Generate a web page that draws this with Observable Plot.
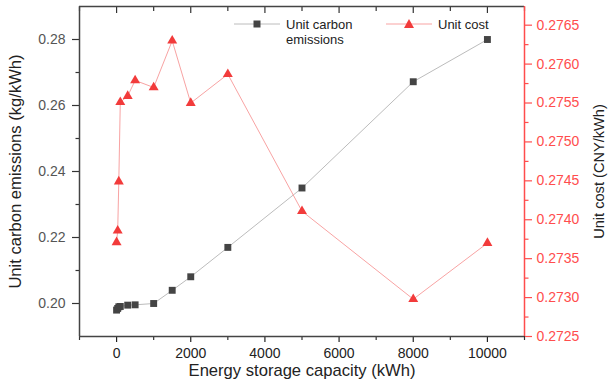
<!DOCTYPE html>
<html><head><meta charset="utf-8">
<script src="https://cdn.jsdelivr.net/npm/d3@7"></script>
<script src="https://cdn.jsdelivr.net/npm/@observablehq/plot@0.6"></script>
<style>
body{margin:0;background:#fff;font-family:"Liberation Sans",Arial,sans-serif;}
#wrap{position:relative;width:608px;height:387px;}
#wrap svg{display:block;}
.leg{position:absolute;font-size:13px;line-height:15px;color:#222;white-space:nowrap;}
</style></head><body>
<div id="wrap"></div>
<script>
// ---- data ----
const capacity = [0, 30, 60, 100, 300, 500, 1000, 1500, 2000, 3000, 5000, 8000, 10000];
const carbon   = [0.1980, 0.1985, 0.1990, 0.1991, 0.1995, 0.1996, 0.2000, 0.2040, 0.2081, 0.2170, 0.2350, 0.2672, 0.2800];
const cost     = [0.27371, 0.27386, 0.27449, 0.27551, 0.27559, 0.27579, 0.27570, 0.27630, 0.27550, 0.27587, 0.27411, 0.27298, 0.27370];
const xMajor = [0, 2000, 4000, 6000, 8000, 10000];
const xMinor = [-1000, 1000, 3000, 5000, 7000, 9000, 11000];
const leftMajor = [0.20, 0.22, 0.24, 0.26, 0.28];
const leftMinor = [0.21, 0.23, 0.25, 0.27];
const rightMajor = [0.2725, 0.2730, 0.2735, 0.2740, 0.2745, 0.2750, 0.2755, 0.2760, 0.2765];
const rightMinor = [0.27275, 0.27325, 0.27375, 0.27425, 0.27475, 0.27525, 0.27575, 0.27625];
const xDomain = [-1000, 11000];
const leftDomain = [0.19, 0.29];
const rightDomain = [0.2725, 0.27674];
const seriesNames = ["Unit carbon emissions", "Unit cost"];

const grayLine = "#bcbcbc", grayDot = "#444444";
const redLine = "#f8a3a3", redDot = "#f23b3b", redAxis = "#ff4d4d";

const toLeft = v => leftDomain[0] + (v - rightDomain[0]) / (rightDomain[1] - rightDomain[0]) * (leftDomain[1] - leftDomain[0]);
const fromLeft = v => rightDomain[0] + (v - leftDomain[0]) / (leftDomain[1] - leftDomain[0]) * (rightDomain[1] - rightDomain[0]);

const data = capacity.map((x, i) => ({x, e: carbon[i], c: toLeft(cost[i])}));

const chart = Plot.plot({
  width: 608, height: 387,
  marginLeft: 79, marginRight: 84, marginTop: 6, marginBottom: 51,
  style: {fontSize: "14px", fontFamily: "Liberation Sans, Arial, sans-serif", background: "#fff"},
  x: {domain: xDomain},
  y: {domain: leftDomain},
  marks: [
    // bottom axis
    Plot.axisX({anchor: "bottom", ticks: xMajor, tickSize: 6, tickPadding: 6, strokeWidth: 1.2,
      tickFormat: d3.format("d"), color: "#222", label: null}),
    Plot.axisX({anchor: "bottom", ticks: [], label: "Energy storage capacity (kWh)", labelAnchor: "center",
      labelArrow: "none", labelOffset: 39, fontSize: 16.6, color: "#222"}),
    Plot.axisX({anchor: "bottom", ticks: xMinor, tickSize: 4, strokeWidth: 1.2, tickFormat: () => "", label: null, color: "#333"}),
    // top mirror ticks (inward)
    Plot.axisX({anchor: "top", ticks: xMajor, tickSize: 6, dy: 6, strokeWidth: 1.2, tickFormat: () => "", label: null, color: "#333"}),
    Plot.axisX({anchor: "top", ticks: xMinor, tickSize: 4, dy: 4, strokeWidth: 1.2, tickFormat: () => "", label: null, color: "#333"}),
    // left axis
    Plot.axisY({anchor: "left", ticks: leftMajor, tickSize: 7, tickPadding: 7, strokeWidth: 1.2,
      tickFormat: d3.format(".2f"), stroke: "#333", fill: "#555", label: null}),
    Plot.axisY({anchor: "left", ticks: [], label: "Unit carbon emissions (kg/kWh)", labelAnchor: "center",
      labelArrow: "none", labelOffset: 70, fontSize: 16.6, color: "#222"}),
    Plot.axisY({anchor: "left", ticks: leftMinor, tickSize: 3.5, strokeWidth: 1.2, tickFormat: () => "", label: null, color: "#333"}),
    // right axis
    Plot.axisY({anchor: "right", ticks: rightMajor.map(toLeft), tickSize: 7, tickPadding: 5, strokeWidth: 1.2,
      tickFormat: d => fromLeft(d).toFixed(4), color: redAxis, label: null}),
    Plot.axisY({anchor: "right", ticks: [], label: "Unit cost (CNY/kWh)", labelAnchor: "center",
      labelArrow: "none", labelOffset: 79, fontSize: 14.6, color: "#222"}),
    Plot.axisY({anchor: "right", ticks: rightMinor.map(toLeft), tickSize: 3.5, strokeWidth: 1.2, tickFormat: () => "", label: null, color: redAxis}),
    // frame
    Plot.ruleY([leftDomain[0]], {stroke: "#444", strokeWidth: 1.5}),
    Plot.ruleY([leftDomain[1]], {stroke: "#444", strokeWidth: 1.5}),
    Plot.ruleX([xDomain[0]], {stroke: "#444", strokeWidth: 1.5}),
    Plot.ruleX([xDomain[1]], {stroke: redAxis, strokeWidth: 1.5}),
    // series
    Plot.line(data, {x: "x", y: "e", stroke: grayLine, strokeWidth: 1}),
    Plot.dot(data, {x: "x", y: "e", symbol: "square", r: 3.9, fill: grayDot, stroke: "none"}),
    Plot.line(data, {x: "x", y: "c", stroke: redLine, strokeWidth: 1}),
    Plot.dot(data, {x: "x", y: "c", symbol: "triangle", r: 3.7, fill: redDot, stroke: "none"})
  ]
});
const wrap = document.getElementById("wrap");
wrap.appendChild(chart);

// legend (HTML overlay)
function legendItem(left, top, lineColor, symbol, symColor, label, textLeft) {
  const s = `<svg width="46" height="14" style="position:absolute;left:${left}px;top:${top}px">
    <line x1="0" x2="46" y1="7" y2="7" stroke="${lineColor}" stroke-width="1"/>
    ${symbol === "square"
      ? `<rect x="19.5" y="3.5" width="7" height="7" fill="${symColor}"/>`
      : `<path d="M23,2 L28,11 L18,11 Z" fill="${symColor}"/>`}
  </svg>`;
  const d = document.createElement("div");
  d.innerHTML = s;
  wrap.appendChild(d.firstElementChild);
  const t = document.createElement("div");
  t.className = "leg";
  t.style.left = textLeft + "px";
  t.style.top = "17px";
  t.innerHTML = label;
  wrap.appendChild(t);
}
legendItem(234, 17, grayLine, "square", grayDot, "Unit carbon<br>emissions", 286);
legendItem(386, 17, redLine, "triangle", redDot, seriesNames[1], 438);
</script>
</body></html>
